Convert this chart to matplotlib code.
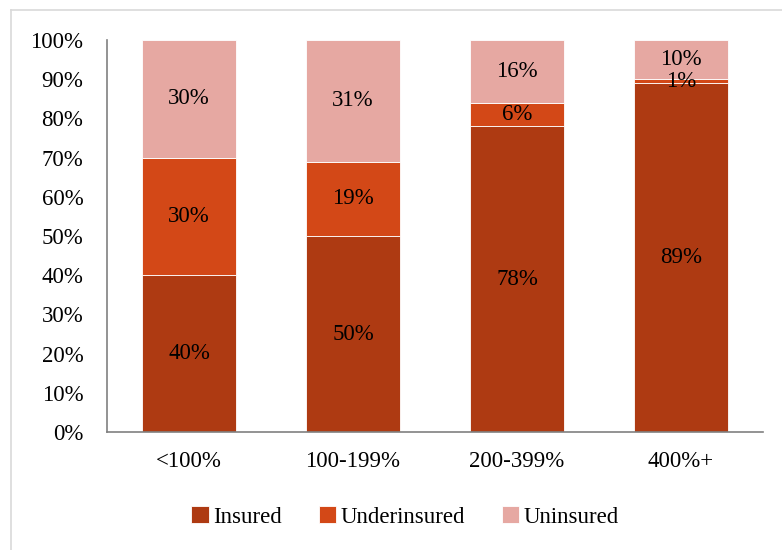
import matplotlib

matplotlib.use("Agg")
import matplotlib.pyplot as plt
from matplotlib.lines import Line2D
import numpy as np

plt.rcParams["font.family"] = ["Liberation Serif", "DejaVu Serif"]

categories = ["<100%", "100-199%", "200-399%", "400%+"]
insured = [40, 50, 78, 89]
underinsured = [30, 19, 6, 1]
uninsured = [30, 31, 16, 10]
series_names = ["Insured", "Underinsured", "Uninsured"]
colors = ["#AE3A12", "#D34817", "#E6A8A2"]

fig = plt.figure(figsize=(7.82, 5.50), dpi=100)
ax = fig.add_axes([107 / 782, 1 - 432 / 550, (763 - 107) / 782, (432 - 40) / 550])

# light frame around the chart (only left and top edges visible)
fx, fy = 11 / 782, 1 - 10 / 550
fig.add_artist(Line2D([fx, fx], [0, fy], transform=fig.transFigure,
                      color="#D9D9D9", lw=1.2))
fig.add_artist(Line2D([fx, 1], [fy, fy], transform=fig.transFigure,
                      color="#D9D9D9", lw=1.2))

x = np.arange(len(categories))
bottom = np.zeros(len(categories))
for name, vals, col in zip(series_names, [insured, underinsured, uninsured], colors):
    vals = np.array(vals, dtype=float)
    ax.bar(x, vals, 0.57, bottom=bottom, color=col, edgecolor="white",
           linewidth=0.6, label=name)
    for xi, b, v in zip(x, bottom, vals):
        ax.text(xi, b + v / 2, f"{v:.0f}%", ha="center", va="center",
                fontsize=16.5, color="black")
    bottom += vals

ax.set_xlim(-0.5, 3.5)
ax.set_ylim(0, 100)
ax.set_yticks(np.arange(0, 101, 10))
ax.set_yticklabels([f"{v}%" for v in range(0, 101, 10)], fontsize=16.5)
ax.set_xticks(x)
ax.set_xticklabels(categories, fontsize=16.5)
ax.tick_params(axis="y", length=0, pad=17)
ax.tick_params(axis="x", length=0, pad=14)
for s in ["top", "right"]:
    ax.spines[s].set_visible(False)
for s in ["left", "bottom"]:
    ax.spines[s].set_color("#808080")
    ax.spines[s].set_linewidth(1.2)

fig.legend(loc="center", bbox_to_anchor=(405 / 782, 1 - 517 / 550), ncol=3,
           frameon=False, fontsize=16.5, handlelength=0.75, handleheight=0.75,
           handletextpad=0.2, columnspacing=1.6)

fig.savefig("out.png", dpi=100)
